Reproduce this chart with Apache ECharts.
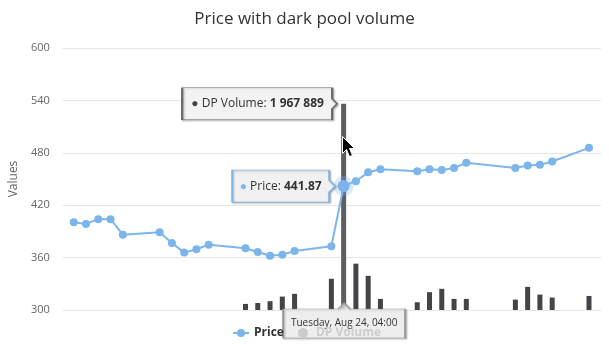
<!DOCTYPE html>
<html>
<head>
<meta charset="utf-8">
<script src="https://cdn.jsdelivr.net/npm/echarts@6/dist/echarts.min.js"></script>
<style>
  html, body { margin: 0; padding: 0; background: #fff; }
  #chart { width: 609px; height: 345px; }
</style>
</head>
<body>
<div id="chart"></div>
<script>
// Daily closing prices (trading days only)
const priceDates = [
  '2021-08-02', '2021-08-03', '2021-08-04', '2021-08-05', '2021-08-06',
  '2021-08-09', '2021-08-10', '2021-08-11', '2021-08-12', '2021-08-13',
  '2021-08-16', '2021-08-17', '2021-08-18', '2021-08-19', '2021-08-20',
  '2021-08-23', '2021-08-24', '2021-08-25', '2021-08-26', '2021-08-27',
  '2021-08-30', '2021-08-31', '2021-09-01', '2021-09-02', '2021-09-03',
  '2021-09-07', '2021-09-08', '2021-09-09', '2021-09-10', '2021-09-13'
];
const priceValues = [
  400.5, 398.6, 404.0, 404.0, 386.3,
  389.0, 376.8, 365.7, 369.6, 374.8,
  370.7, 366.5, 362.2, 363.4, 367.6,
  373.0, 441.87, 447.5, 457.8, 461.2,
  459.0, 461.2, 460.4, 462.7, 468.5,
  462.7, 465.4, 466.2, 470.0, 485.7
];

// Dark pool volume per day
const volumeDates = [
  '2021-08-16', '2021-08-17', '2021-08-18', '2021-08-19', '2021-08-20',
  '2021-08-23', '2021-08-24', '2021-08-25', '2021-08-26', '2021-08-27',
  '2021-08-30', '2021-08-31', '2021-09-01', '2021-09-02', '2021-09-03',
  '2021-09-07', '2021-09-08', '2021-09-09', '2021-09-10', '2021-09-13'
];
const volumeValues = [
  58000, 67000, 84000, 128000, 154000,
  298000, 1967889, 442000, 326000, 106000,
  74000, 170000, 202000, 106000, 106000,
  99000, 221000, 147000, 118000, 134000
];

// Axis settings
const priceTicks = [300, 360, 420, 480, 540, 600];
const timeRange = ['2021-08-01T06:30:00Z', '2021-09-14T03:30:00Z'];
const volumeMax = 2500000;
const focusDate = '2021-08-24';

const ts = d => Date.parse(d + 'T04:00:00Z');
const focusIdxPrice = priceDates.indexOf(focusDate);
const focusIdxVol = volumeDates.indexOf(focusDate);
const focusT = ts(focusDate);

const fmtSpace = n => String(n).replace(/\B(?=(\d{3})+(?!\d))/g, ' ');

const priceData = priceDates.map((d, i) => {
  const item = { value: [ts(d), priceValues[i]] };
  if (i === focusIdxPrice) {
    item.symbolSize = 12;
    item.itemStyle = { borderColor: 'rgba(124,181,236,0.28)', borderWidth: 8 };
  }
  return item;
});
const volumeData = volumeDates.map((d, i) => [ts(d), volumeValues[i]]);

const FONT = '"Open Sans", sans-serif';
const BAR_W = 5;
const boxShadow = { shadowColor: 'rgba(0,0,0,0.3)', shadowBlur: 2, shadowOffsetX: 1, shadowOffsetY: 1 };

// Volume columns drawn on the shared time axis
function renderVolumeBar(params, api) {
  const t = api.value(0);
  const top = api.coord([t, api.value(1)]);
  const base = api.coord([t, 0]);
  const hovered = params.dataIndex === focusIdxVol;
  return {
    type: 'rect',
    shape: { x: top[0] - BAR_W / 2, y: top[1], width: BAR_W, height: base[1] - top[1] },
    style: { fill: hovered ? '#5d5d62' : '#434348' }
  };
}

const chart = echarts.init(document.getElementById('chart'), null, { renderer: 'canvas' });
chart.setOption({
  animation: false,
  textStyle: { fontFamily: FONT },
  title: {
    text: 'Price with dark pool volume',
    left: 'center',
    top: 6,
    textStyle: { fontFamily: FONT, fontSize: 17, fontWeight: 'normal', color: '#333333' }
  },
  legend: {
    z: 10,
    left: 232,
    top: 327,
    padding: 0,
    itemWidth: 16,
    itemHeight: 10,
    itemGap: 14,
    textStyle: { fontFamily: FONT, fontSize: 12, fontWeight: 'bold', color: '#333333' },
    data: [
      { name: 'Price' },
      { name: 'DP Volume', icon: 'circle', itemStyle: { color: '#cccccc' }, textStyle: { color: '#cccccc' } }
    ]
  },
  grid: { left: 62, right: 8, top: 48, bottom: 35 },
  xAxis: {
    type: 'time',
    min: Date.parse(timeRange[0]),
    max: Date.parse(timeRange[1]),
    show: false
  },
  yAxis: [
    {
      type: 'value',
      min: priceTicks[0],
      max: priceTicks[priceTicks.length - 1],
      interval: priceTicks[1] - priceTicks[0],
      name: 'Values',
      nameLocation: 'middle',
      nameGap: 40,
      nameRotate: 90,
      nameTextStyle: { color: '#666666', fontSize: 12, fontFamily: FONT },
      axisLine: { show: false },
      axisTick: { show: false },
      axisLabel: { color: '#666666', fontSize: 11, margin: 13, fontFamily: FONT },
      splitLine: { lineStyle: { color: '#e6e6e6', width: 1 } }
    },
    {
      type: 'value',
      min: 0,
      max: volumeMax,
      show: false,
      splitLine: { show: false }
    }
  ],
  series: [
    {
      name: 'DP Volume',
      type: 'custom',
      yAxisIndex: 1,
      silent: true,
      itemStyle: { color: '#434348' },
      encode: { x: 0, y: 1 },
      renderItem: renderVolumeBar,
      data: volumeData,
      markPoint: {
        z: 3,
        silent: true,
        data: [
          {
            // value callout next to the bar top
            coord: [focusT, volumeValues[focusIdxVol]],
            symbol: 'path://M0 0 L150 0 L150 11 L155 16 L150 21 L150 32 L0 32 Z',
            symbolSize: [155, 32],
            symbolOffset: [-84, 0],
            itemStyle: Object.assign({ color: 'rgba(247,247,247,0.92)', borderColor: '#6a6a6e', borderWidth: 1 }, boxShadow),
            label: {
              show: true,
              position: 'inside',
              offset: [-2, 0],
              formatter: '{d|●} DP Volume: {b|' + fmtSpace(volumeValues[focusIdxVol]) + '}',
              rich: {
                d: { color: '#434348', fontSize: 12, fontFamily: FONT },
                b: { fontWeight: 'bold', color: '#333333', fontSize: 12, fontFamily: FONT }
              },
              color: '#333333',
              fontSize: 12,
              fontFamily: FONT
            }
          },
          {
            // date header under the axis
            coord: [focusT, 0],
            symbol: 'path://M0 6 L55 6 L61 0 L67 6 L122 6 L122 35 L0 35 Z',
            symbolSize: [122, 35],
            symbolOffset: [0.5, 10.5],
            itemStyle: Object.assign({ color: 'rgba(247,247,247,0.85)', borderColor: '#999999', borderWidth: 1 }, boxShadow),
            label: {
              show: true,
              position: 'inside',
              offset: [0, 3],
              formatter: 'Tuesday, Aug 24, 04:00',
              color: '#333333',
              fontSize: 10,
              fontFamily: FONT
            }
          }
        ]
      }
    },
    {
      name: 'Price',
      type: 'line',
      yAxisIndex: 0,
      symbol: 'circle',
      symbolSize: 8,
      silent: true,
      z: 4,
      lineStyle: { color: '#7cb5ec', width: 2 },
      itemStyle: { color: '#7cb5ec' },
      data: priceData,
      markPoint: {
        z: 6,
        silent: true,
        data: [
          {
            coord: [focusT, priceValues[focusIdxPrice]],
            symbol: 'path://M0 0 L97 0 L97 10 L103 16 L97 22 L97 32 L0 32 Z',
            symbolSize: [103, 32],
            symbolOffset: [-60, 0],
            itemStyle: Object.assign({ color: 'rgba(247,247,247,0.9)', borderColor: '#7cb5ec', borderWidth: 1 }, boxShadow),
            label: {
              show: true,
              position: 'inside',
              offset: [-3, 0],
              formatter: '{d|●} Price: {b|' + priceValues[focusIdxPrice].toFixed(2) + '}',
              rich: {
                d: { color: '#7cb5ec', fontSize: 12, fontFamily: FONT },
                b: { fontWeight: 'bold', color: '#333333', fontSize: 12, fontFamily: FONT }
              },
              color: '#333333',
              fontSize: 12,
              fontFamily: FONT
            }
          }
        ]
      }
    }
  ],
  graphic: [
    {
      // mouse pointer
      type: 'polygon',
      z: 100,
      x: 342.5,
      y: 136.5,
      shape: { points: [[0, 0], [0, 17], [4, 13], [7, 20], [10, 19], [7, 12], [12, 12]] },
      style: { fill: '#000000', stroke: '#ffffff', lineWidth: 1 }
    }
  ]
});
</script>
</body>
</html>
